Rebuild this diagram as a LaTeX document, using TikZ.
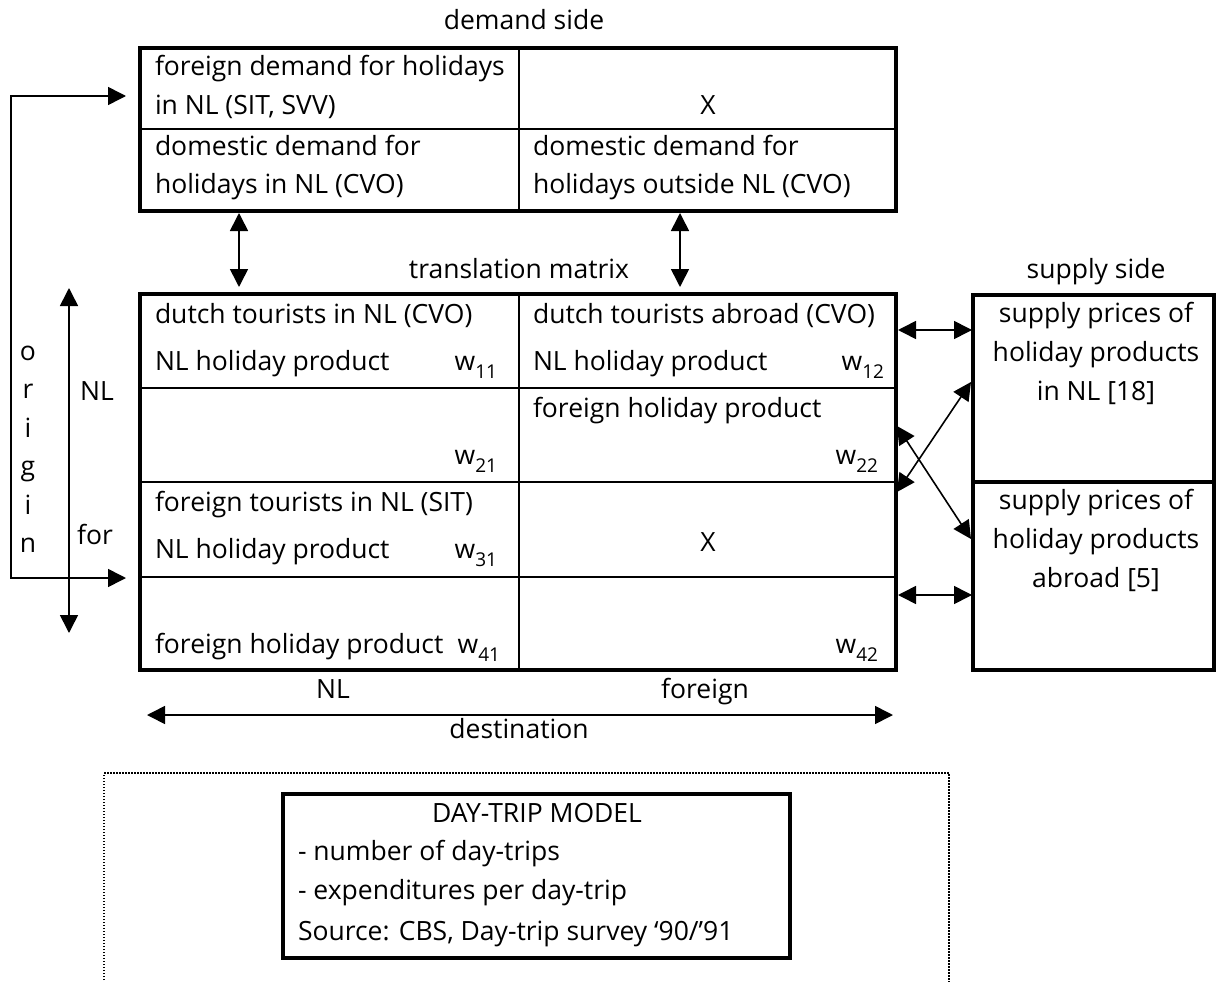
\documentclass[tikz,border=0pt]{standalone}
\usepackage{fontspec}
\setmainfont{Open Sans}
\usetikzlibrary{arrows.meta}

% weight symbol with a lowered index
\newcommand{\wsub}[1]{w\raisebox{-0.32em}{\fontsize{19}{19}\selectfont #1}}

\begin{document}
\begin{tikzpicture}[x=1pt,y=-1pt,
  every node/.style={inner sep=0pt, outer sep=0pt, font=\fontsize{26.5}{30}\selectfont},
  lbl/.style={anchor=base west},
  ctr/.style={anchor=base},
  rgt/.style={anchor=base east},
  frame/.style={draw, line width=3.5pt, rectangle, anchor=north west},
  divider/.style={line width=2pt},
  link/.style={line width=1.6pt, {Triangle[length=18pt,width=18pt]}-{Triangle[length=18pt,width=18pt]}},
  dotbox/.style={line width=1.5pt, dash pattern=on 1.5pt off 1.5pt}
]
\useasboundingbox (0,0) rectangle (1216,982);

% ---------- boxes ----------
\node[frame, minimum width=756pt, minimum height=163pt] (demand) at (140,48) {};
\node[frame, minimum width=756pt, minimum height=376pt] (tmatrix) at (140,294) {};
\node[frame, minimum width=241pt, minimum height=187pt] (supNL) at (973,295) {};
\node[frame, minimum width=241pt, minimum height=188pt] (supAB) at (973,482) {};
\node[frame, minimum width=507pt, minimum height=164pt] (daytrip) at (283,794) {};

% cell dividers
\draw[divider] (519,48) -- (519,211);
\draw[divider] (140,129) -- (896,129);
\draw[divider] (519,294) -- (519,670);
\foreach \r in {388,482,577} \draw[divider] (140,\r) -- (896,\r);

% dotted frame round the day-trip model
\draw[dotbox] (104,995) -- (104,773) -- (949,773) -- (949,995);

% ---------- headings ----------
\node[ctr] (hdemand) at (524,30) {demand side};
\node[ctr] (htrans) at (519,278) {translation matrix};
\node[ctr] (hsupply) at (1096,278) {supply side};

% ---------- demand side cells ----------
\node[lbl] (d11a) at (155,75) {foreign demand for holidays};
\node[lbl] (d11b) at (155,114) {in NL (SIT, SVV)};
\node[ctr] (d12) at (708,114) {X};
\node[lbl] (d21a) at (155,155) {domestic demand for};
\node[lbl] (d21b) at (155,193) {holidays in NL (CVO)};
\node[lbl] (d22a) at (533,155) {domestic demand for};
\node[lbl] (d22b) at (533,193) {holidays outside NL (CVO)};

% ---------- translation matrix cells ----------
\node[lbl] (m11a) at (155,323) {dutch tourists in NL (CVO)};
\node[lbl] (m11b) at (155,370) {NL holiday product};
\node[rgt] (w11) at (497,370) {\wsub{11}};
\node[lbl] (m12a) at (533,323) {dutch tourists abroad (CVO)};
\node[lbl] (m12b) at (533,370) {NL holiday product};
\node[rgt] (w12) at (884,370) {\wsub{12}};

\node[rgt] (w21) at (497,464) {\wsub{21}};
\node[lbl] (m22a) at (533,417) {foreign holiday product};
\node[rgt] (w22) at (878,464) {\wsub{22}};

\node[lbl] (m31a) at (155,511) {foreign tourists in NL (SIT)};
\node[lbl] (m31b) at (155,558) {NL holiday product};
\node[rgt] (w31) at (497,558) {\wsub{31}};
\node[ctr] (m32) at (708,551) {X};

\node[lbl] (m41b) at (155,653) {foreign holiday product};
\node[rgt] (w41) at (500,653) {\wsub{41}};
\node[rgt] (w42) at (878,653) {\wsub{42}};

% ---------- supply side ----------
\node[ctr] (s1a) at (1096,322) {supply prices of};
\node[ctr] (s1b) at (1096,361) {holiday products};
\node[ctr] (s1c) at (1096,400) {in NL [18]};
\node[ctr] (s2a) at (1096,509) {supply prices of};
\node[ctr] (s2b) at (1096,548) {holiday products};
\node[ctr] (s2c) at (1096,587) {abroad [5]};

% ---------- axis labels ----------
\node[ctr] (aNL) at (97,400) {NL};
\node[ctr] (aFor) at (95,544) {for};
\foreach \ch [count=\i from 0] in {o,r,i,g,i,n}
  \node[ctr] (orig\i) at (28,{360+38.5*\i}) {\ch};
\node[ctr] (bNL) at (333,698) {NL};
\node[ctr] (bFor) at (705,698) {foreign};
\node[ctr] (bDest) at (519,738) {destination};

% ---------- day-trip model ----------
\node[ctr] (dtTitle) at (537,822) {DAY-TRIP MODEL};
\node[lbl] (dt1) at (298,860) {- number of day-trips};
\node[lbl] (dt2) at (298,899) {- expenditures per day-trip};
\node[lbl] (dt3) at (298,940) {Source: CBS, Day-trip survey ‘90/’91};

% ---------- connector end points ----------
\coordinate (fbLow) at (126,578);
\coordinate (fbLowCorner) at (11,578);
\coordinate (fbTopCorner) at (11,96);
\coordinate (fbTop) at (126,96);
\coordinate (orTop) at (69,288);
\coordinate (orBot) at (69,633);
\coordinate (deL) at (147,715);
\coordinate (deR) at (893,715);
\coordinate (vLa) at (239,213);
\coordinate (vLb) at (239,287);
\coordinate (vRa) at (680,213);
\coordinate (vRb) at (680,287);
\coordinate (h1a) at (898,330);
\coordinate (h1b) at (972,330);
\coordinate (h2a) at (898,595);
\coordinate (h2b) at (972,595);
\coordinate (x1a) at (897,426);
\coordinate (x1b) at (971,539);
\coordinate (x2a) at (897,492);
\coordinate (x2b) at (971,382);

% ---------- connectors ----------
\draw[link] (fbLow) -- (fbLowCorner) -- (fbTopCorner) -- (fbTop);
\draw[link] (orTop) -- (orBot);
\draw[link] (deL) -- (deR);
\draw[link] (vLa) -- (vLb);
\draw[link] (vRa) -- (vRb);
\draw[link] (h1a) -- (h1b);
\draw[link] (h2a) -- (h2b);
\draw[link] (x1a) -- (x1b);
\draw[link] (x2a) -- (x2b);
\end{tikzpicture}
\end{document}
